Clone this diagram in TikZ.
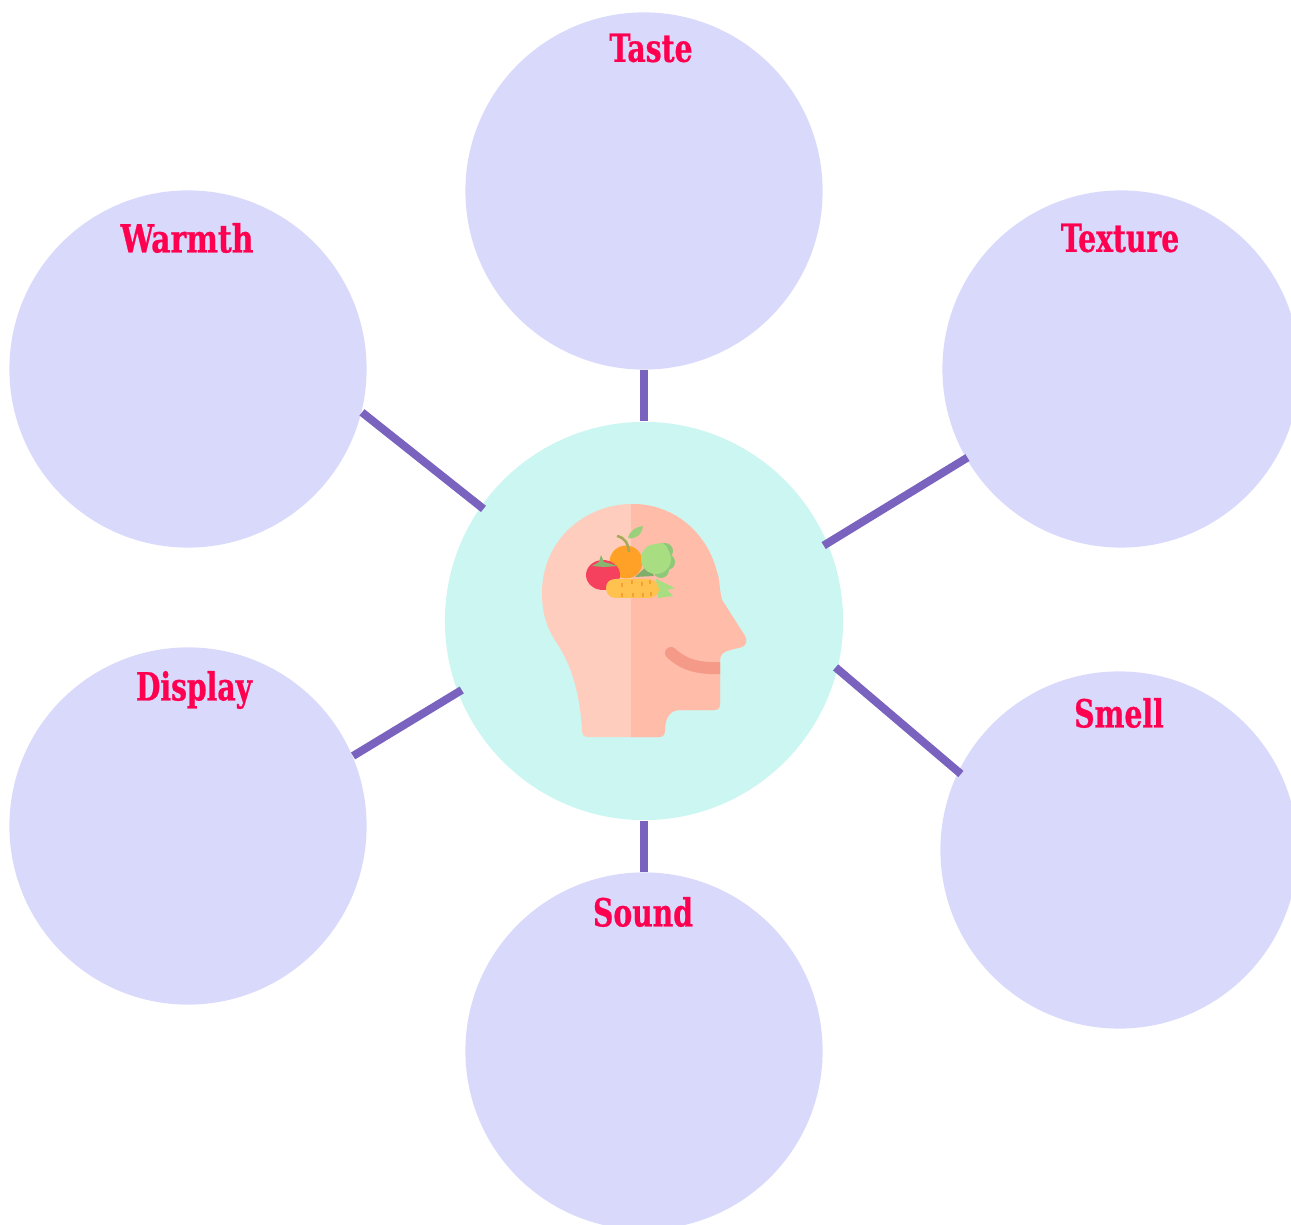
\documentclass[tikz,border=0pt]{standalone}
\usepackage{fontspec}
\usepackage{xcolor}
\newfontfamily\labelfont[FakeStretch=0.81,FakeBold=0.6]{DejaVu Serif Condensed}
\definecolor{petal}{HTML}{D9D9FB}
\definecolor{hubfill}{HTML}{CCF6F2}
\definecolor{spoke}{HTML}{7A62BF}
\definecolor{labelred}{HTML}{FF0050}
\definecolor{skinlight}{HTML}{FFCDBD}
\definecolor{skindark}{HTML}{FFBDA9}
\definecolor{mouthred}{HTML}{F59A88}
\definecolor{tomatored}{HTML}{F5405E}
\definecolor{orangefruit}{HTML}{FFA126}
\definecolor{carrotfill}{HTML}{FFC24F}
\definecolor{carrotline}{HTML}{F5A030}
\definecolor{leaflight}{HTML}{A9DD82}
\definecolor{leafdark}{HTML}{8FC878}
\definecolor{stemgreen}{HTML}{7FAE6A}
\tikzset{
petal/.style={circle,fill=petal,minimum size=3.57cm,inner sep=0pt},
hub/.style={circle,fill=hubfill,minimum size=3.98cm,inner sep=0pt},
spokeline/.style={draw=spoke,line width=0.08cm,shorten >=-0.05cm},
petallabel/.style={text=labelred,font=\labelfont\bfseries\fontsize{11}{13}\selectfont,inner sep=0pt},
}
\def\headshape{(632,504) .. controls (585,504) and (542,540) .. (542,593)
.. controls (542,615) and (548,630) .. (556,642)
.. controls (572,665) and (580,695) .. (582,730)
.. controls (582,735) and (584,737) .. (588,737)
-- (659,737) .. controls (663,737) and (665,735) .. (665,730)
.. controls (665,718) and (670,710) .. (680,710)
-- (714,710) .. controls (718,710) and (720,708) .. (720,704)
-- (720,660) .. controls (720,650) and (732,650) .. (742,647)
.. controls (747,645) and (747,640) .. (745,636)
-- (722,600) .. controls (719,590) and (720,580) .. (717,572)
.. controls (706,530) and (672,504) .. (632,504) -- cycle}
\begin{document}
\begin{tikzpicture}[x=0.01cm,y=-0.01cm]
\useasboundingbox(0,0)rectangle(1291,1225);
\node[petal](taste)at(644,191){};
\node[petal](texture)at(1121,369){};
\node[petal](smell)at(1119,850){};
\node[petal](sound)at(644,1051){};
\node[petal](display)at(188,826){};
\node[petal](warmth)at(188,369){};
\node[hub](brain)at(644,621){};
% spokes
\draw[spokeline,shorten >=0pt](taste.south)--(brain.north);
\draw[spokeline,shorten <=-0.02cm](texture.210.5)--(brain.23);
\draw[spokeline,shorten <=-0.04cm,shorten >=-0.03cm](smell.154)--(brain.-14.8);
\draw[spokeline,shorten >=0pt](sound.north)--(brain.south);
\draw[spokeline](display.23)--(brain.201);
\draw[spokeline,shorten >=-0.04cm](warmth.-14)--(brain.145.5);
% labels
\node[petallabel](tastelabel)at(651,48){Taste};
\node[petallabel](texturelabel)at(1120,238){Texture};
\node[petallabel](smelllabel)at(1119,713){Smell};
\node[petallabel](soundlabel)at(643,912){Sound};
\node[petallabel](displaylabel)at(194,690){Display};
\node[petallabel,xscale=1.06](warmthlabel)at(187,238){Warmth};
% head
\fill[skinlight]\headshape;
\begin{scope}
\clip(631,490)rectangle(760,750);
\fill[skindark]\headshape;
\end{scope}
\begin{scope}
\clip(650,640)rectangle(720,680);
\draw[mouthred,line width=0.12cm,line cap=round](671,653).. controls (685,666) and (700,669) .. (725,668);
\end{scope}
% fruit
\fill[leafdark](665,551)circle[radius=8];
\fill[leafdark](667,562)circle[radius=8];
\fill[leafdark](661,570)circle[radius=8];
\fill[stemgreen](635,577)--(648,565)--(654,576)--cycle;
\fill[orangefruit](626,562)circle[radius=16.5];
\fill[leaflight](656,559)circle[radius=15];
\fill[leaflight](660,551)circle[radius=8];
\fill[tomatored](603,575)ellipse[x radius=17,y radius=15];
\fill[stemgreen!80!leaflight](601,555)--(604,562)--(618,566)--(604,567)--(592,566)--(599,562)--cycle;
\draw[stemgreen!70!orangefruit,line width=0.025cm](629,552)..controls (628,543) and (625,538) .. (617,536);
\fill[leaflight!70!stemgreen](628,538)..controls (630,530) and (636,527) .. (643,526)..controls (642,534) and (636,540) .. (628,538)--cycle;
\fill[leaflight](656,579)--(675,588)--(667,590)--(673,596)--(658,598)--cycle;
\fill[carrotfill](606,588)..controls (606,582) and (610,579) .. (616,579)--(648,579)..controls (654,579) and (659,584) .. (659,590)..controls (658,595) and (654,598) .. (648,598)--(616,598)..controls (610,598) and (606,594) .. (606,588)--cycle;
\foreach \stripex/\stripey in {622/583,622/593,632/580,633/593,642/582,643/593,650/580,651/592}
\draw[carrotline,line width=0.015cm](\stripex,\stripey)--+(0,4);
\end{tikzpicture}
\end{document}
